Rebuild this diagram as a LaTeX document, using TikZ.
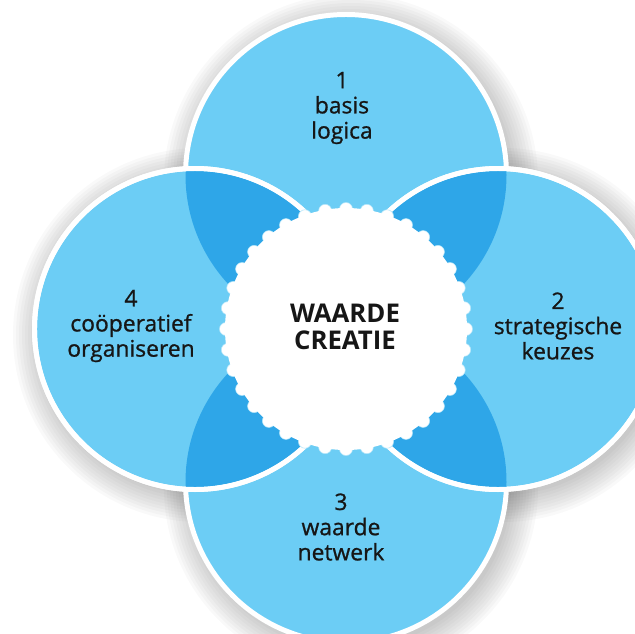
\documentclass[tikz,border=0pt]{standalone}
\usepackage{fontspec}
\setmainfont{Open Sans}
\newfontfamily\petalfont{Open Sans}[FakeBold=0.9]
\usetikzlibrary{positioning}
\definecolor{petalblue}{RGB}{108,205,245}
\definecolor{lensblue}{RGB}{46,166,232}
\definecolor{txtdark}{RGB}{22,22,22}

\begin{document}
\begin{tikzpicture}[
      x=0.03cm,y=-0.03cm,
      petal/.style={circle,fill=petalblue,draw=white,line width=4.25pt,minimum size=9.63cm,inner sep=0pt},
      rim/.style={draw=white,line width=4.25pt},
      scallop/.style={fill=white,draw=white!50!petalblue,line width=0.45pt},
      core/.style={circle,fill=white,minimum size=7.26cm,inner sep=0pt},
      lbl/.style={align=center,text=txtdark,font=\petalfont\fontsize{19.5}{21.5}\selectfont},
      hub/.style={align=center,text=txtdark,font=\bfseries\fontsize{22}{22.5}\selectfont}
    ]
    \useasboundingbox (0,0) rectangle (635,633);
    \clip (0,0) rectangle (635,633);
    \coordinate (c1) at (346,175);
    \coordinate (c2) at (498,329);
    \coordinate (c3) at (346,482);
    \coordinate (c4) at (195,329);
    \coordinate (mid) at (346,329);
    % soft shadow
    \foreach \c in {c1,c2,c3,c4}
      \foreach \r in {0,3,...,27}
        \fill[black,opacity=0.022] ([shift={(5,6)}]\c) circle (160+\r);
    % the four circles
    \node[petal] (p1) at (c1) {};
    \node[petal] (p3) at (c3) {};
    \node[petal] (p4) at (c4) {};
    \node[petal] (p2) at (c2) {};
    % overlaps
    \foreach \a in {p2,p4}
      \foreach \b in {p1,p3} {
        \begin{scope}
          \clip (\a.center) circle (158);
          \fill[lensblue] (\b.center) circle (160.5);
        \end{scope}
      }
    \foreach \a in {p2,p4}
      \draw[rim] (\a.center) circle (160.5);
    % centre with scalloped edge
    \foreach \a in {0,10,...,350}
      \draw[scallop] (mid) ++(\a:120) circle (6.5);
    \node[core] (core) at (mid) {};
    % texts
    \node[lbl] (t1) at (342,108) {1\\basis\\logica};
    \node[lbl] (t2) at (558,326) {2\\strategische\\keuzes};
    \node[lbl] (t3) at (341,527) {3\\waarde\\netwerk};
    \node[lbl] (t4) at (131,326) {4\\coöperatief\\organiseren};
    \node[hub] (t0) at (345,327) {WAARDE\\CREATIE};
  \end{tikzpicture}
\end{document}
